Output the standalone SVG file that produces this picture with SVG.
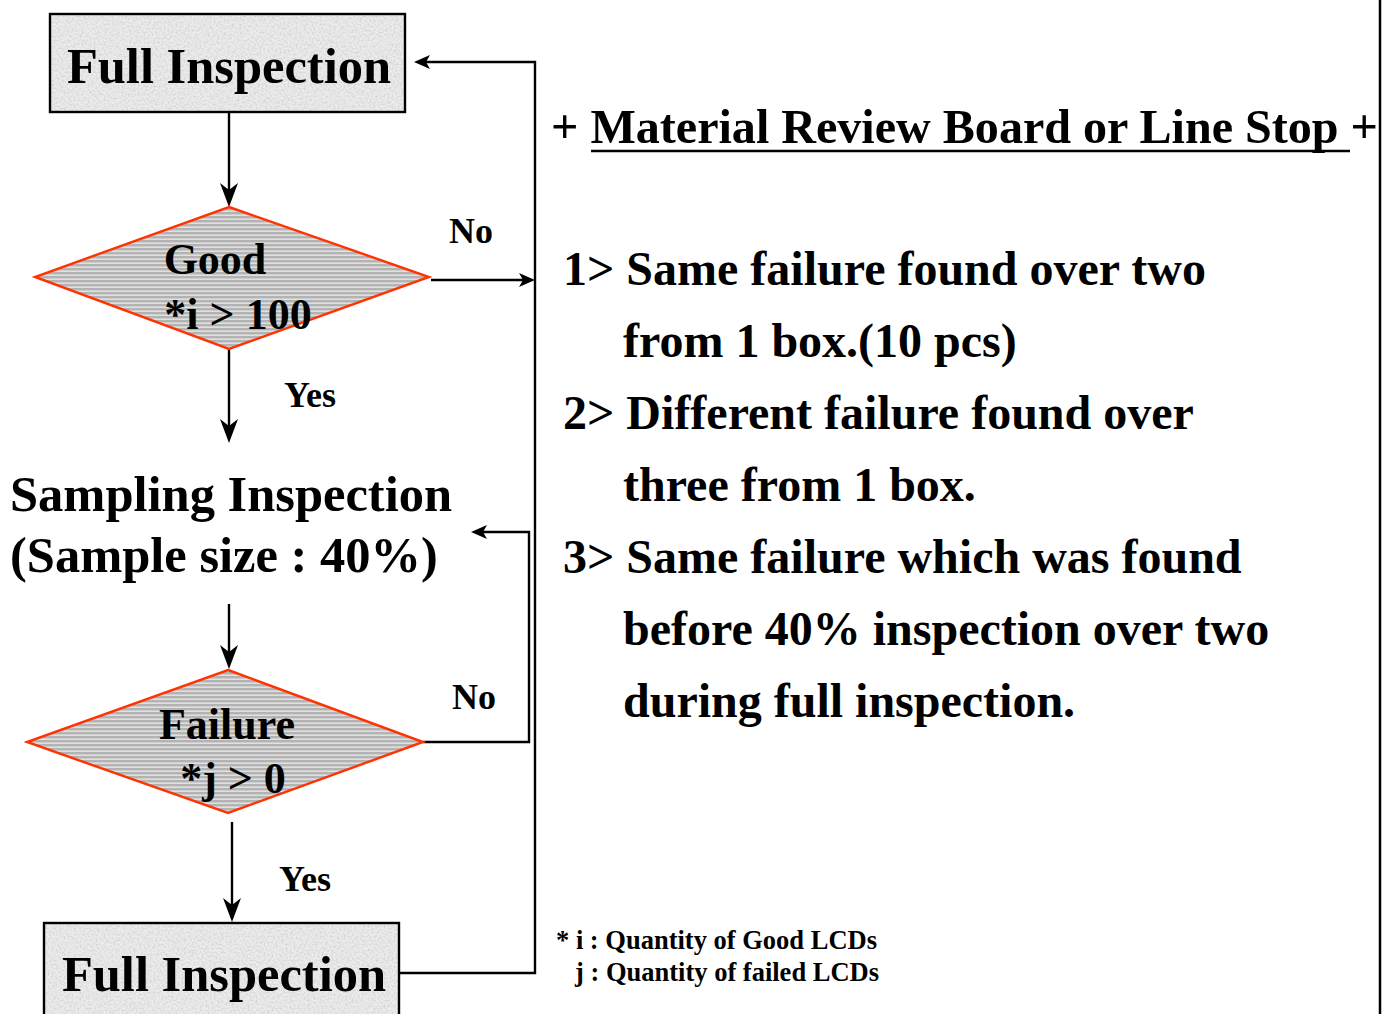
<svg xmlns="http://www.w3.org/2000/svg" width="1393" height="1014" viewBox="0 0 1393 1014">
<style>
  text { font-family: "Liberation Serif", "Times New Roman", serif; font-weight: bold; fill: #000; }
  .box { font-size: 50.5px; }
  .dia { font-size: 44px; }
  .lbl { font-size: 36px; }
  .list { font-size: 48px; }
  .note { font-size: 26.5px; }
  .conn { fill: none; stroke: #000; stroke-width: 2.4; }
  .head { fill: #000; }
  .diamond { fill: url(#stripes); stroke: #ff3300; stroke-width: 2.4; }
  .frame { fill: none; stroke: #000; stroke-width: 2.5; }
</style>
<defs>
  <pattern id="stripes" patternUnits="userSpaceOnUse" width="6" height="4">
    <rect width="6" height="4" fill="#b3b3b3"/>
    <rect y="2.6" width="6" height="1.1" fill="#f4f4f4"/>
  </pattern>
  <filter id="noise" x="0" y="0" width="1" height="1" filterUnits="objectBoundingBox">
    <feTurbulence type="fractalNoise" baseFrequency="0.5" numOctaves="3" seed="7" result="n"/>
    <feColorMatrix in="n" type="matrix" values="0 0 0 0 0.6  0 0 0 0 0.6  0 0 0 0 0.6  1.8 0 0 0 -0.7"/>
    <feComposite in2="SourceGraphic" operator="in"/>
  </filter>
</defs>
<rect width="1393" height="1014" fill="#fff"/>

<g id="connectors">
  <line class="conn" x1="229" y1="112" x2="229" y2="195"/>
  <path class="head" d="M220,183 L229,190 L238,183 L229,207 Z"/>
  <line class="conn" x1="229" y1="349" x2="229" y2="432"/>
  <path class="head" d="M220,419 L229,426 L238,419 L229,443 Z"/>
  <line class="conn" x1="229" y1="604" x2="229" y2="658"/>
  <path class="head" d="M220,645 L229,652 L238,645 L229,669 Z"/>
  <line class="conn" x1="232" y1="822" x2="232" y2="911"/>
  <path class="head" d="M223,898 L232,905 L241,898 L232,922 Z"/>
  <line class="conn" x1="431" y1="280" x2="525" y2="280"/>
  <path class="head" d="M519,273 L535,280 L519,287 L523,280 Z"/>
  <polyline class="conn" points="399,973 535,973 535,62 424,62"/>
  <path class="head" d="M430,55 L414,62 L430,69 L426,62 Z"/>
  <polyline class="conn" points="423,742 529,742 529,532 481,532"/>
  <path class="head" d="M487,525 L471,532 L487,539 L483,532 Z"/>
  <text class="lbl" x="449" y="243">No</text>
  <text class="lbl" x="284" y="407">Yes</text>
  <text class="lbl" x="452" y="709">No</text>
  <text class="lbl" x="279" y="891">Yes</text>
</g>

<g id="full-inspection-top">
  <rect x="50" y="14" width="355" height="98" fill="#ececec"/>
  <rect x="50" y="14" width="355" height="98" fill="#fff" filter="url(#noise)"/>
  <rect x="50" y="14" width="355" height="98" fill="none" stroke="#000" stroke-width="2.4"/>
  <text class="box" x="229" y="83" text-anchor="middle">Full Inspection</text>
</g>

<g id="good-decision">
  <polygon class="diamond" points="229,207 429,277 229,349 35,277"/>
  <text class="dia" x="215" y="274" text-anchor="middle">Good</text>
  <text class="dia" x="238" y="329" text-anchor="middle">*i &gt; 100</text>
</g>

<g id="sampling-inspection">
  <text class="box" x="10" y="511">Sampling Inspection</text>
  <text class="box" x="10" y="572">(Sample size : 40%)</text>
</g>

<g id="failure-decision">
  <polygon class="diamond" points="228,670 423,742 228,813 27,742"/>
  <text class="dia" x="227" y="739" text-anchor="middle">Failure</text>
  <text class="dia" x="233" y="793" text-anchor="middle">*j &gt; 0</text>
</g>

<g id="full-inspection-bottom">
  <rect x="44" y="923" width="355" height="100" fill="#ececec"/>
  <rect x="44" y="923" width="355" height="100" fill="#fff" filter="url(#noise)"/>
  <rect x="44" y="923" width="355" height="100" fill="none" stroke="#000" stroke-width="2.4"/>
  <text class="box" x="224" y="991" text-anchor="middle">Full Inspection</text>
</g>

<g id="mrb-panel">
  <text x="551" y="143" font-size="48" textLength="827" lengthAdjust="spacingAndGlyphs">+ Material Review Board or Line Stop +</text>
  <line x1="591" y1="151" x2="1350" y2="151" stroke="#000" stroke-width="2.5"/>
  <text class="list" x="563" y="285">1&gt; Same failure found over two</text>
  <text class="list" x="623" y="357">from 1 box.(10 pcs)</text>
  <text class="list" x="563" y="429">2&gt; Different failure found over</text>
  <text class="list" x="623" y="501">three from 1 box.</text>
  <text class="list" x="563" y="573">3&gt; Same failure which was found</text>
  <text class="list" x="623" y="645">before 40% inspection over two</text>
  <text class="list" x="623" y="717">during full inspection.</text>
  <text class="note" x="556" y="949">* i : Quantity of Good LCDs</text>
  <text class="note" x="575" y="981">j : Quantity of failed LCDs</text>
</g>

<line class="frame" x1="1380" y1="0" x2="1380" y2="1014"/>
</svg>
